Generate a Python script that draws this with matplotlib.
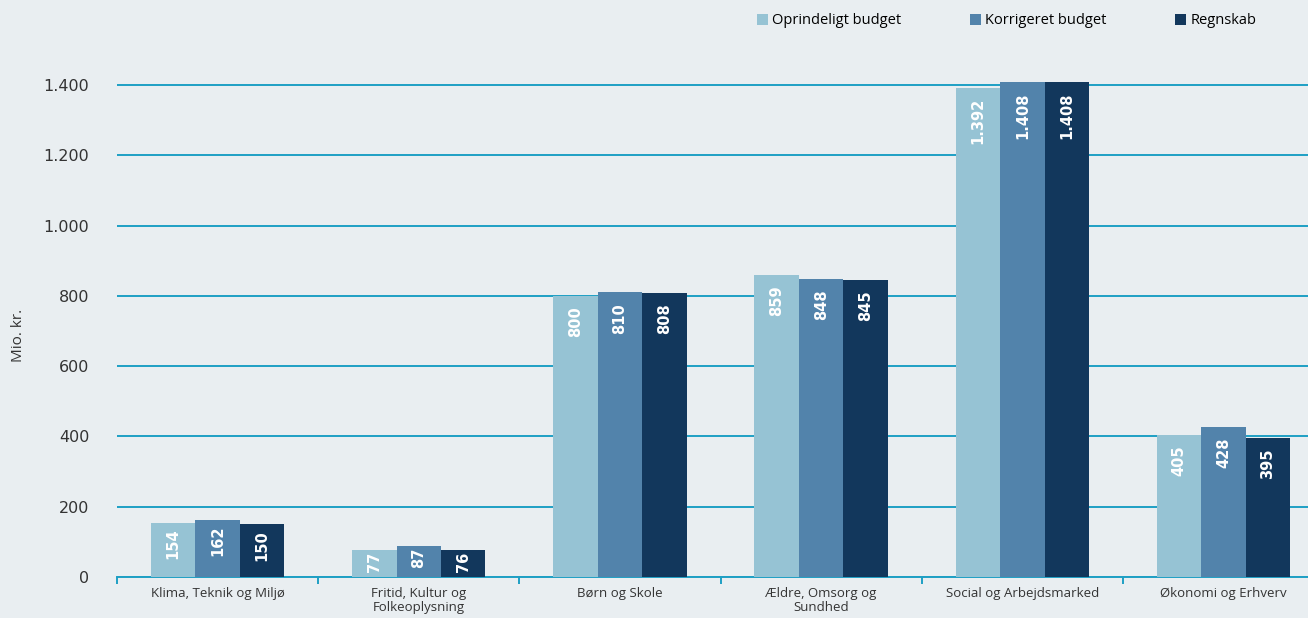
import numpy as np
import matplotlib.pyplot as plt
from matplotlib.patches import Patch

# data (Mio. kr.)
categories = ["Klima, Teknik og Miljø", "Fritid, Kultur og\nFolkeoplysning", "Børn og Skole",
              "Ældre, Omsorg og\nSundhed", "Social og Arbejdsmarked", "Økonomi og Erhverv"]
oprindeligt = [154, 77, 800, 859, 1392, 405]
korrigeret = [162, 87, 810, 848, 1408, 428]
regnskab = [150, 76, 808, 845, 1408, 395]
series_names = ["Oprindeligt budget", "Korrigeret budget", "Regnskab"]
colors = ["#96c3d4", "#5283ab", "#12375c"]
yticks = [0, 200, 400, 600, 800, 1000, 1200, 1400]
ytick_labels = ["0", "200", "400", "600", "800", "1.000", "1.200", "1.400"]

bg = "#e9eef1"
grid_col = "#1e9fc4"
plt.rcParams["font.family"] = "DejaVu Sans"

fig = plt.figure(figsize=(13.08, 6.18), dpi=100, facecolor=bg)
W, H = 1308, 618
ymax = 1450
px_per_unit = 492 / 1400
ax_h = ymax * px_per_unit
ax = fig.add_axes([117 / W, (H - 577) / H, (W - 117) / W, ax_h / H])
ax.set_facecolor(bg)

x = np.arange(len(categories))
bw = 0.221
series = [oprindeligt, korrigeret, regnskab]
for i, (vals, name, c) in enumerate(zip(series, series_names, colors)):
    bars = ax.bar(x + (i - 1) * bw, vals, width=bw, color=c, label=name, zorder=3)
    for b, v in zip(bars, vals):
        lbl = f"{v:,}".replace(",", ".")
        # small bars: label hugs the top so it stays inside the bar
        off = -1 if v < 100 else (-4 if v < 200 else -7.5)
        ax.annotate(lbl, (b.get_x() + b.get_width() / 2, b.get_height()),
                    xytext=(0, off), textcoords="offset points", rotation=90,
                    ha="center", va="top", color="white", fontsize=10.5,
                    fontweight="bold", family="DejaVu Sans", zorder=4)

ax.set_xlim(-0.5, 5.42)
ax.set_ylim(0, ymax)
ax.set_yticks(yticks)
ax.set_yticklabels(ytick_labels, family="DejaVu Sans")
ax.yaxis.grid(True, color=grid_col, linewidth=1.4, zorder=0)
ax.set_axisbelow(True)
ax.tick_params(axis="y", length=0, labelsize=11.5, colors="#333333", pad=20)

for s in ["top", "right", "left"]:
    ax.spines[s].set_visible(False)
ax.spines["bottom"].set_color(grid_col)
ax.spines["bottom"].set_linewidth(1.4)

ax.set_xticks(x)
ax.set_xticklabels(categories, fontsize=9.5, family="Open Sans", color="#333333", linespacing=1.1)
ax.tick_params(axis="x", length=0, pad=7)
ax.set_xticks(np.arange(len(categories)) - 0.5, minor=True)
ax.tick_params(axis="x", which="minor", length=5, width=1.4, color=grid_col)

fig.text(18 / W, 1 - 335 / H, "Mio. kr.", rotation=90, ha="center", va="center",
         fontsize=11, family="Open Sans", color="#333333")

handles = [Patch(facecolor=c, label=n) for c, n in zip(colors, series_names)]
leg = fig.legend(handles=handles, ncol=3, loc="center left",
                 bbox_to_anchor=(757 / W, 1 - 21 / H), frameon=False,
                 prop={"family": "Open Sans", "size": 10.5}, handlelength=0.75,
                 handleheight=0.75, handletextpad=0.3, columnspacing=4.7,
                 borderpad=0, borderaxespad=0)

fig.savefig("out.png", dpi=100, facecolor=bg)
